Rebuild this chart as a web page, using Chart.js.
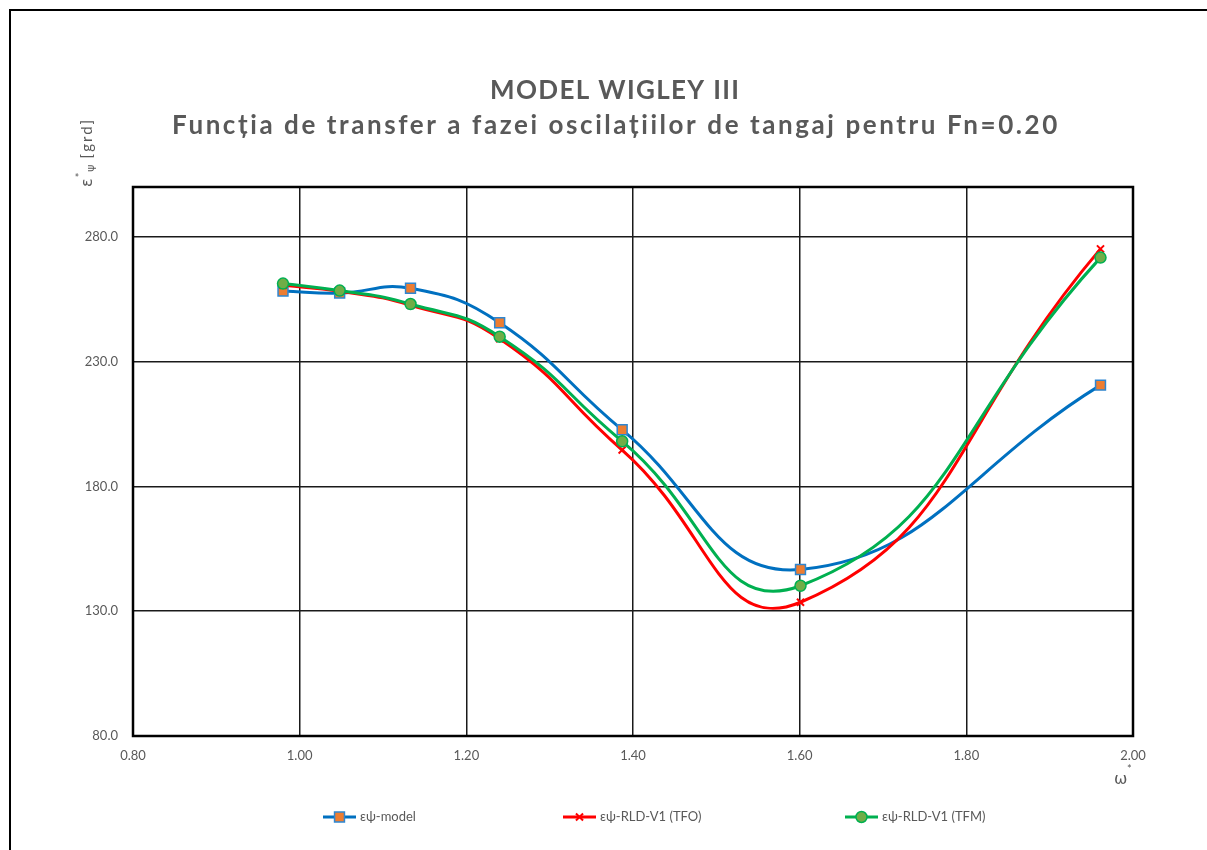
<!DOCTYPE html>
<html>
<head>
<meta charset="utf-8">
<title>MODEL WIGLEY III</title>
<script src="https://cdn.jsdelivr.net/npm/chart.js@4/dist/chart.umd.min.js"></script>
<style>
    html, body { margin: 0; padding: 0; background: #ffffff; }
    #wrap { width: 1207px; height: 850px; }
</style>
</head>
<body>
<div id="wrap"><canvas id="chart" width="1207" height="850"></canvas></div>
<script>
// values
const omega = [0.980, 1.048, 1.133, 1.240, 1.387, 1.601, 1.961];
const epsModel = [258.3, 257.5, 259.4, 245.6, 202.7, 146.7, 220.6];
const epsTFO = [260.6, 258.2, 252.6, 239.2, 194.6, 133.6, 275.2];
const epsTFM = [261.3, 258.5, 253.1, 240.0, 198.1, 140.2, 271.7];

const seriesNames = ['εψ-model', 'εψ-RLD-V1 (TFO)', 'εψ-RLD-V1 (TFM)'];
const xTicks = [0.8, 1.0, 1.2, 1.4, 1.6, 1.8, 2.0];
const yTicks = [80, 130, 180, 230, 280];

const titleLine1 = 'MODEL WIGLEY III';
const titleLine2 = 'Funcția de transfer a fazei oscilațiilor de tangaj pentru Fn=0.20';

const textGray = '#595959';
const baseFont = 'Lato, "Open Sans", sans-serif';
const greekFont = '"DejaVu Sans", sans-serif';

function toPoints(ys) {
    return omega.map((x, i) => ({ x: x, y: ys[i] }));
}

// draw text stretched to a given width with letter spacing
function fitText(ctx, text, left, baseline, width) {
    ctx.letterSpacing = '0px';
    const w0 = ctx.measureText(text).width;
    const ls = (width - w0) / (text.length - 1);
    ctx.letterSpacing = ls.toFixed(2) + 'px';
    ctx.textAlign = 'left';
    ctx.fillText(text, left, baseline);
    ctx.letterSpacing = '0px';
}

const decor = {
    id: 'decor',
    beforeDraw(chart) {
        const ctx = chart.ctx;
        ctx.save();
        ctx.fillStyle = '#ffffff';
        ctx.fillRect(0, 0, chart.width, chart.height);
        ctx.restore();
    },
    afterDraw(chart) {
        const ctx = chart.ctx;
        const area = chart.chartArea;
        ctx.save();

        // outer frame (top and left edges)
        ctx.strokeStyle = '#000000';
        ctx.lineWidth = 2;
        ctx.beginPath();
        ctx.moveTo(10, chart.height);
        ctx.lineTo(10, 10);
        ctx.lineTo(chart.width, 10);
        ctx.stroke();

        // plot area border
        ctx.lineWidth = 2.5;
        ctx.strokeStyle = '#000000';
        ctx.strokeRect(area.left, area.top, area.right - area.left, area.bottom - area.top);

        // titles
        ctx.fillStyle = textGray;
        ctx.textBaseline = 'alphabetic';
        ctx.font = 'bold 26px ' + baseFont;
        fitText(ctx, titleLine1, 490, 99, 249);
        fitText(ctx, titleLine2, 172, 134, 885);

        // y axis title, rotated
        ctx.save();
        ctx.translate(92, 187);
        ctx.rotate(-Math.PI / 2);
        ctx.textAlign = 'left';
        ctx.font = '16px ' + greekFont;
        let cx = 0;
        ctx.fillText('ε', cx, 0);
        cx += ctx.measureText('ε').width + 1;
        ctx.font = '11px ' + baseFont;
        ctx.fillText('*', cx, -8);
        cx += ctx.measureText('*').width + 1;
        ctx.font = '11px ' + greekFont;
        ctx.fillText('ψ', cx, 2);
        cx += ctx.measureText('ψ').width + 6;
        ctx.font = '15px ' + baseFont;
        ctx.letterSpacing = '2px';
        ctx.fillText('[grd]', cx, 0);
        ctx.letterSpacing = '0px';
        ctx.restore();

        // x axis title
        ctx.font = '16px ' + greekFont;
        ctx.textAlign = 'left';
        ctx.fillText('ω', 1114, 784);
        ctx.font = '11px ' + baseFont;
        ctx.fillText('*', 1127, 773);

        // legend
        const legendStarts = [323, 563, 845];
        const legendY = 817;
        chart.data.datasets.forEach((ds, i) => {
            const x0 = legendStarts[i];
            ctx.strokeStyle = ds.borderColor;
            ctx.lineWidth = 3;
            ctx.beginPath();
            ctx.moveTo(x0, legendY);
            ctx.lineTo(x0 + 33, legendY);
            ctx.stroke();
            ctx.fillStyle = ds.pointBackgroundColor;
            ctx.strokeStyle = ds.pointBorderColor;
            ctx.lineWidth = ds.pointBorderWidth;
            Chart.helpers.drawPoint(ctx, {
                pointStyle: ds.pointStyle,
                radius: ds.pointRadius,
                rotation: 0,
                borderWidth: ds.pointBorderWidth
            }, x0 + 16.5, legendY);
            ctx.fillStyle = textGray;
            ctx.font = '13px ' + baseFont;
            ctx.textAlign = 'left';
            ctx.textBaseline = 'middle';
            ctx.fillText(ds.label, x0 + 37, legendY);
        });
        ctx.restore();
    }
};

const ctx = document.getElementById('chart').getContext('2d');

new Chart(ctx, {
    type: 'line',
    data: {
        datasets: [
            {
                label: seriesNames[0],
                data: toPoints(epsModel),
                borderColor: '#0070C0',
                borderWidth: 3,
                tension: 0.45,
                pointStyle: 'rect',
                pointRadius: 7,
                pointBackgroundColor: '#ED7D31',
                pointBorderColor: '#2E86D1',
                pointBorderWidth: 1.5,
                order: 2
            },
            {
                label: seriesNames[1],
                data: toPoints(epsTFO),
                borderColor: '#FF0000',
                borderWidth: 3,
                tension: 0.5,
                pointStyle: 'crossRot',
                pointRadius: 5,
                pointBackgroundColor: '#FF0000',
                pointBorderColor: '#FF0000',
                pointBorderWidth: 2,
                order: 1
            },
            {
                label: seriesNames[2],
                data: toPoints(epsTFM),
                borderColor: '#00B050',
                borderWidth: 3,
                tension: 0.5,
                pointStyle: 'circle',
                pointRadius: 5.5,
                pointBackgroundColor: '#70AD47',
                pointBorderColor: '#00B050',
                pointBorderWidth: 1.5,
                order: 0
            }
        ]
    },
    options: {
        responsive: false,
        animation: false,
        devicePixelRatio: 1,
        layout: {
            padding: { top: 187, right: 74, bottom: 64, left: 0 }
        },
        plugins: {
            legend: { display: false },
            title: { display: false },
            tooltip: { enabled: false }
        },
        scales: {
            x: {
                type: 'linear',
                min: 0.8,
                max: 2.0,
                afterBuildTicks: (scale) => {
                    scale.ticks = xTicks.map(v => ({ value: v }));
                },
                afterFit: (scale) => { scale.height = 50; },
                ticks: {
                    color: textGray,
                    font: { family: baseFont, size: 13 },
                    padding: 12,
                    maxRotation: 0,
                    callback: (v) => Number(v).toFixed(2)
                },
                grid: {
                    color: '#1a1a1a',
                    lineWidth: 1.5,
                    drawTicks: false
                },
                border: { display: false }
            },
            y: {
                type: 'linear',
                min: 80,
                max: 300,
                afterBuildTicks: (scale) => {
                    scale.ticks = yTicks.map(v => ({ value: v }));
                },
                afterFit: (scale) => { scale.width = 133; },
                ticks: {
                    color: textGray,
                    font: { family: baseFont, size: 13 },
                    padding: 15,
                    callback: (v) => Number(v).toFixed(1)
                },
                grid: {
                    color: '#1a1a1a',
                    lineWidth: 1.5,
                    drawTicks: false
                },
                border: { display: false }
            }
        }
    },
    plugins: [decor]
});
</script>
</body>
</html>
